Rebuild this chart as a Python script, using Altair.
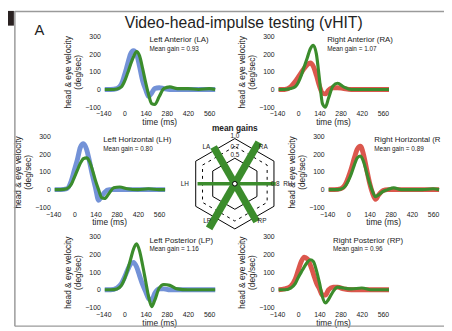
import altair as alt
import pandas as pd
import numpy as np

# ---------------- data ----------------
time_ms = [-130, -90, -50, -20, 0, 20, 40, 60, 80, 100, 120, 140, 160, 180, 200, 230, 260, 300, 350, 420, 490, 560, 600]

la_head = [0, 0, 5, 30, 80, 140, 200, 220, 200, 130, 50, 0, -40, -20, 5, 10, 5, 0, 0, 0, 0, 0, 0]
la_eye = [0, 0, 3, 15, 45, 90, 140, 185, 215, 190, 120, 40, -30, -80, -85, -40, 5, 15, 5, 5, 0, 5, 0]
ra_head = [0, 0, 15, 45, 70, 95, 120, 140, 150, 130, 80, 20, -20, -25, -5, 10, 10, 5, 0, 0, 0, 0, 0]
ra_eye = [0, 0, 5, 15, 40, 80, 130, 180, 230, 250, 200, 60, -80, -100, -50, 20, 35, 15, 0, 0, 0, 0, 0]
lh_head = [0, 0, 5, 50, 110, 170, 240, 260, 230, 160, 80, 10, -60, -40, -15, 0, 0, 0, 0, 0, 0, 0, 0]
lh_eye = [0, 0, 5, 30, 70, 110, 150, 175, 180, 160, 110, 50, 0, -45, -50, -20, 10, 15, 5, 0, 5, 0, 0]
rh_head = [0, 0, 5, 30, 70, 120, 180, 230, 245, 200, 120, 40, -20, -55, -30, -5, 0, 0, 0, 0, 0, 0, 0]
rh_eye = [0, 0, 3, 20, 50, 90, 140, 180, 190, 160, 100, 40, -10, -40, -30, -10, 0, 10, 0, 0, 0, 5, 0]
lp_head = [0, 0, 10, 35, 70, 110, 145, 155, 130, 80, 30, -10, -50, -60, -20, 5, 5, 0, 0, 0, 0, 0, 0]
lp_eye = [0, 0, 5, 25, 60, 110, 170, 230, 260, 220, 140, 50, -40, -95, -60, 10, 30, 25, 5, 0, 0, 0, 0]
rp_head = [0, 5, 20, 60, 110, 160, 185, 175, 140, 90, 40, 5, -30, -30, 0, 15, 15, 5, 0, 0, 0, 0, 0]
rp_eye = [0, 0, 10, 35, 70, 100, 130, 155, 170, 160, 110, 40, -40, -75, -55, -10, 15, 10, 5, 10, 0, 0, 0]

x_ticks = [-140, 0, 140, 280, 420, 560]
y_ticks = [-100, 0, 100, 200, 300]

canal_names = ["LA", "RA", "LH", "RH", "LP", "RP"]
mean_gain = [0.93, 1.07, 0.80, 0.89, 1.16, 0.96]
ring_levels = [1.0, 0.8, 0.5]
ring_label_text = ["1.0", "0.7", "0.5", "0.8"]
ring_label_value = [1.0, 0.7, 0.5, 0.8]

# ---------------- styling / layout ----------------
FONT = "Liberation Sans"
GREEN = "#3b8c2c"
BLUE = "#5a7fd0"
RED = "#d53a2e"
TXT = "#222222"
W, H = 444, 323          # whole drawing (page minus 8px margin)
PW, PH = 114, 72         # one trace panel's plot area

canal_angle = {"LA": 120, "RA": 60, "LH": 180, "RH": 0, "LP": 240, "RP": 300}
label_angle = {"LA": 128, "RA": 52, "LH": 180, "RH": 0, "LP": 233, "RP": 306}
label_radius = {"LA": 47, "RA": 47, "LH": 51, "RH": 54, "LP": 47, "RP": 47}
ring_label_angle = [90, 90, 90, 0]
RCX, RCY = 231, 176      # centre of the gain plot


def radius(g):
    # radial scale of the gain plot (pixels)
    return 6 + 40 * g


def one(**kw):
    return pd.DataFrame({k: [v] for k, v in kw.items()})


def trace_panel(title, gain_txt, head, eye, head_color, gx, gy, title_dx):
    n = len(time_ms)
    df = pd.DataFrame({"t": time_ms + time_ms, "v": head + eye,
                       "sig": ["head"] * n + ["eye"] * n})
    xenc = alt.X("t:Q",
                 scale=alt.Scale(domain=[-140, 600], range=[gx, gx + PW], nice=False, zero=False),
                 axis=alt.Axis(values=x_ticks, title="time (ms)", orient="bottom",
                               offset=gy + PH - H, labelFlush=False, labelOverlap=False,
                               labelPadding=3, titlePadding=1))
    yenc = alt.Y("v:Q",
                 scale=alt.Scale(domain=[-100, 300], range=[gy + PH, gy], nice=False, zero=False),
                 axis=alt.Axis(values=y_ticks, title=["head & eye velocity", "(deg/sec)"],
                               orient="left", offset=-gx, labelFlush=False,
                               labelOverlap=False, labelPadding=3, titlePadding=2))
    head_l = alt.Chart(df).transform_filter(alt.datum.sig == "head").mark_line(
        color=head_color, strokeWidth=5, opacity=0.85, interpolate="monotone"
    ).encode(x=xenc, y=yenc)
    eye_l = alt.Chart(df).transform_filter(alt.datum.sig == "eye").mark_line(
        color=GREEN, strokeWidth=3.2, interpolate="monotone"
    ).encode(x=xenc, y=yenc)
    tx = gx + title_dx
    t1 = alt.Chart(one(s=title)).mark_text(
        align="left", baseline="middle", fontSize=8, color=TXT, font=FONT,
        limit=W - tx + 1, ellipsis="\u200b"
    ).encode(x=alt.value(tx), y=alt.value(gy + 4), text="s:N")
    t2 = alt.Chart(one(s=gain_txt)).mark_text(
        align="left", baseline="middle", fontSize=6.5, color=TXT, font=FONT
    ).encode(x=alt.value(tx), y=alt.value(gy + 13), text="s:N")
    return alt.layer(head_l, eye_l, t1, t2)


# ---------------- page decorations ----------------
deco_rect = alt.Chart(one(s=1)).mark_rect(color="#2a2222").encode(
    x=alt.value(0), x2=alt.value(6), y=alt.value(0), y2=alt.value(15))
frame_v = alt.Chart(one(s=1)).mark_rule(color="#9a9a9a", strokeWidth=1.5).encode(
    x=alt.value(7), y=alt.value(0), y2=alt.value(321))
frame_t = alt.Chart(one(s=1)).mark_rule(color="#9a9a9a", strokeWidth=1.5).encode(
    x=alt.value(7), x2=alt.value(W), y=alt.value(0.5))
frame_b = alt.Chart(one(s=1)).mark_rule(color="#9a9a9a", strokeWidth=1.5).encode(
    x=alt.value(7), x2=alt.value(W), y=alt.value(321))
main_title = alt.Chart(one(s="Video-head-impulse testing (vHIT)")).mark_text(
    fontSize=16, font=FONT, color=TXT, align="center", baseline="middle").encode(
    x=alt.value(240), y=alt.value(12), text="s:N")
letter = alt.Chart(one(s="A")).mark_text(
    fontSize=15, font=FONT, color=TXT, align="center", baseline="middle").encode(
    x=alt.value(32), y=alt.value(20), text="s:N")

# ---------------- radar (mean gains) ----------------
hex_rows = []
for lvl in ring_levels:
    for i in range(7):
        a = np.deg2rad(90 + 60 * i)
        hex_rows.append({"lvl": lvl, "i": i, "x": radius(lvl) * np.cos(a),
                         "y": radius(lvl) * np.sin(a)})
hex_df = pd.DataFrame(hex_rows)

bar_df = pd.DataFrame({
    "canal": canal_names,
    "x0": 0.0, "y0": 0.0,
    "x1": [radius(g) * np.cos(np.deg2rad(canal_angle[c])) for c, g in zip(canal_names, mean_gain)],
    "y1": [radius(g) * np.sin(np.deg2rad(canal_angle[c])) for c, g in zip(canal_names, mean_gain)],
    "horiz": [c.endswith("H") for c in canal_names],
})
lab_df = pd.DataFrame({
    "canal": canal_names,
    "x": [label_radius[c] * np.cos(np.deg2rad(label_angle[c])) for c in canal_names],
    "y": [label_radius[c] * np.sin(np.deg2rad(label_angle[c])) for c in canal_names],
})
ring_lab_df = pd.DataFrame({
    "s": ring_label_text,
    "x": [(radius(v) + 3) * np.cos(np.deg2rad(a)) for v, a in zip(ring_label_value, ring_label_angle)],
    "y": [(radius(v) + 3) * np.sin(np.deg2rad(a)) for v, a in zip(ring_label_value, ring_label_angle)],
})

RX = alt.Scale(domain=[-46, 46], range=[RCX - 46, RCX + 46], nice=False, zero=False)
RY = alt.Scale(domain=[-46, 46], range=[RCY + 46, RCY - 46], nice=False, zero=False)


def rx(f):
    return alt.X(f, scale=RX, axis=None)


def ry(f):
    return alt.Y(f, scale=RY, axis=None)


hex_solid = alt.Chart(hex_df).transform_filter(alt.datum.lvl != 0.8).mark_line(
    color="black", strokeWidth=1).encode(
    x=rx("x:Q"), y=ry("y:Q"), detail="lvl:N", order="i:Q")
hex_dash = alt.Chart(hex_df).transform_filter(alt.datum.lvl == 0.8).mark_line(
    color="black", strokeWidth=1, strokeDash=[3, 4]).encode(
    x=rx("x:Q"), y=ry("y:Q"), detail="lvl:N", order="i:Q")
bars_diag = alt.Chart(bar_df).transform_filter(alt.datum.horiz == False).mark_rule(
    color=GREEN, strokeWidth=7.5).encode(
    x=rx("x0:Q"), y=ry("y0:Q"), x2="x1:Q", y2="y1:Q")
bars_h = alt.Chart(bar_df).transform_filter(alt.datum.horiz == True).mark_rule(
    color=GREEN, strokeWidth=3.5).encode(
    x=rx("x0:Q"), y=ry("y0:Q"), x2="x1:Q", y2="y1:Q")
center = alt.Chart(one(x=0.0, y=0.0)).mark_point(
    shape="circle", filled=True, fill="white", stroke="black", strokeWidth=1,
    size=22, opacity=1).encode(x=rx("x:Q"), y=ry("y:Q"))
canal_txt = alt.Chart(lab_df).mark_text(fontSize=6.5, font=FONT, color=TXT).encode(
    x=rx("x:Q"), y=ry("y:Q"), text="canal:N")
ring_txt = alt.Chart(ring_lab_df).mark_text(fontSize=6.5, font=FONT, color=TXT).encode(
    x=rx("x:Q"), y=ry("y:Q"), text="s:N")
radar_title = alt.Chart(one(s="mean gains")).mark_text(
    fontSize=8.5, fontWeight="bold", font=FONT, color=TXT).encode(
    x=alt.value(RCX), y=alt.value(RCY - 57), text="s:N")
radar = alt.layer(hex_solid, hex_dash, bars_diag, bars_h, center, canal_txt, ring_txt,
                  radar_title)

# ---------------- trace panels ----------------
la = trace_panel("Left Anterior (LA)", "Mean gain = 0.93", la_head, la_eye, BLUE, 97, 26, 47)
ra = trace_panel("Right Anterior (RA)", "Mean gain = 1.07", ra_head, ra_eye, RED, 274, 26, 51)
lh = trace_panel("Left Horizontal (LH)", "Mean gain = 0.80", lh_head, lh_eye, BLUE, 46, 128, 51)
rh = trace_panel("Right Horizontal (RH)", "Mean gain = 0.89", rh_head, rh_eye, RED, 325, 128, 48)
lp = trace_panel("Left Posterior (LP)", "Mean gain = 1.16", lp_head, lp_eye, BLUE, 97, 230, 47)
rp = trace_panel("Right Posterior (RP)", "Mean gain = 0.96", rp_head, rp_eye, RED, 274, 230, 57)

chart = alt.layer(
    deco_rect, frame_v, frame_t, frame_b, main_title, letter,
    la, ra, lh, radar, rh, lp, rp
).resolve_scale(x="independent", y="independent").properties(
    width=W, height=H, padding=0, autosize=alt.AutoSizeParams(type="none")
).configure_view(stroke=None).configure_axis(
    domain=False, ticks=False, grid=False, labelFontSize=7, titleFontSize=8.5,
    titleFontWeight="normal", labelColor=TXT, titleColor=TXT, labelFont=FONT,
    titleFont=FONT
).configure_text(font=FONT)

chart.save("out.html", embed_options={"renderer": "svg", "actions": False})
